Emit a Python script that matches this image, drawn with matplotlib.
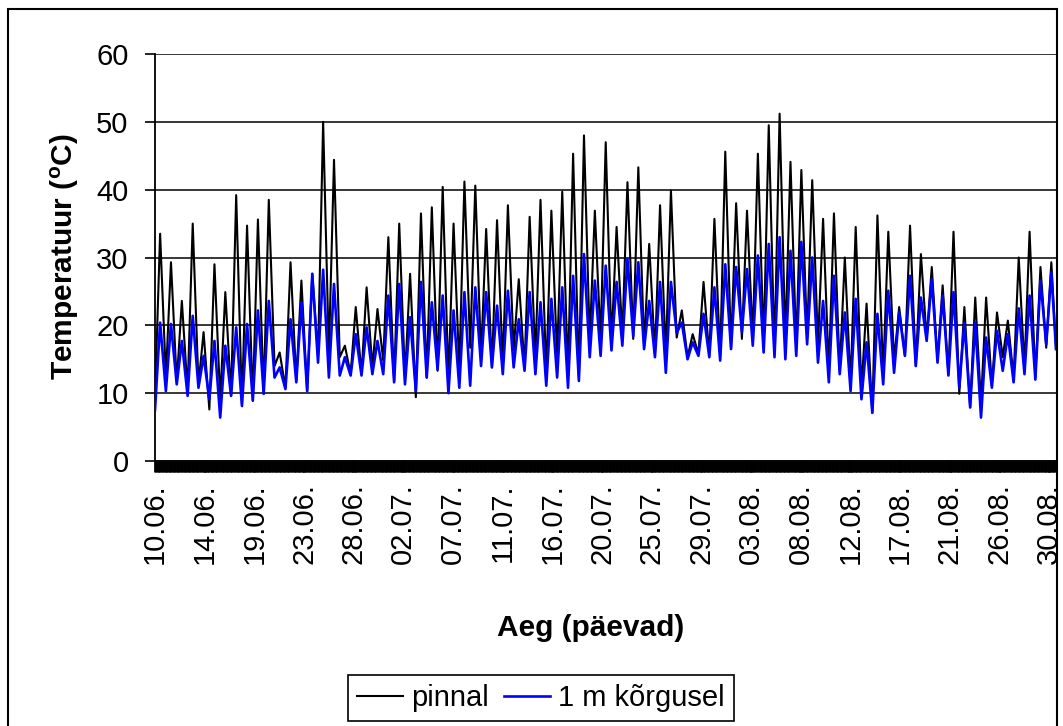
import matplotlib
matplotlib.use('Agg')
import matplotlib.pyplot as plt
from matplotlib.patches import Rectangle
from matplotlib.ticker import MultipleLocator, FixedLocator

plt.rcParams['font.family'] = ['Liberation Sans', 'DejaVu Sans']
plt.rcParams['mathtext.fontset'] = 'custom'
plt.rcParams['mathtext.rm'] = 'Liberation Sans'
plt.rcParams['mathtext.bf'] = 'Liberation Sans:bold'

#%% andmed: ööpäeva miinimum ja maksimum (°C), loetud graafikult

pinnal_min = [
    9.4, 12.3, 11.6, 10.3, 11.3, 7.6, 9.0, 9.6, 8.4, 8.9,
    9.9, 14.0, 10.8, 11.8, 10.3, 15.5, 15.8, 15.3, 12.8, 12.8,
    13.8, 14.8, 11.8, 12.3, 9.4, 12.3, 13.3, 12.0, 13.5, 16.7,
    15.3, 13.8, 14.3, 16.3, 13.8, 15.3, 12.8, 15.3, 12.8, 12.3,
    17.7, 17.7, 17.5, 18.5, 18.0, 17.0, 15.8, 15.5, 18.2, 15.3,
    15.8, 15.5, 15.3, 16.7, 18.0, 18.2, 17.2, 16.0, 17.7, 16.7,
    18.2, 17.2, 13.3, 13.3, 11.3, 10.6, 7.1, 12.8, 14.8, 15.5,
    14.0, 18.0, 14.8, 12.8, 9.9, 7.9, 8.5, 11.1, 15.3, 12.3,
    13.8, 12.3, 16.7,
]
pinnal_max = [
    33.5, 29.3, 23.6, 35.0, 19.0, 29.0, 24.9, 39.2, 34.7, 35.6,
    38.5, 16.0, 29.3, 26.6, 27.6, 50.0, 44.4, 17.0, 22.7, 25.6,
    22.4, 33.0, 35.0, 27.6, 36.5, 37.4, 40.4, 35.0, 41.2, 40.6,
    34.2, 35.5, 37.7, 26.8, 36.0, 38.5, 36.9, 39.7, 45.3, 48.0,
    36.9, 47.0, 34.5, 41.1, 43.3, 32.0, 37.7, 39.9, 22.2, 18.7,
    26.4, 35.7, 45.6, 38.0, 36.9, 45.3, 49.5, 51.2, 44.1, 42.9,
    41.4, 35.7, 36.5, 30.0, 34.5, 23.2, 36.2, 33.8, 22.7, 34.7,
    30.5, 28.6, 25.9, 33.8, 22.7, 24.1, 24.1, 21.9, 20.7, 30.0,
    33.8, 28.6, 29.3,
]
korgusel_min = [
    7.5, 10.3, 11.3, 9.6, 10.8, 9.1, 6.4, 9.6, 8.1, 8.9,
    9.9, 12.3, 10.6, 11.6, 10.3, 14.5, 12.3, 12.6, 12.6, 12.6,
    12.8, 12.8, 11.6, 11.3, 10.3, 12.3, 13.5, 10.0, 10.8, 11.1,
    14.0, 13.8, 12.8, 13.8, 13.3, 12.8, 11.1, 12.3, 10.8, 11.8,
    15.3, 15.5, 16.3, 17.0, 18.4, 16.5, 15.3, 13.0, 18.9, 15.0,
    15.5, 15.3, 14.8, 16.5, 19.0, 17.0, 16.0, 15.3, 15.0, 15.5,
    17.2, 14.5, 11.6, 12.8, 10.3, 9.1, 7.1, 11.3, 13.0, 15.5,
    14.0, 17.7, 14.5, 12.6, 10.8, 7.9, 6.4, 10.8, 13.3, 11.6,
    12.8, 12.0, 17.2,
]
korgusel_max = [
    20.4, 20.2, 17.7, 21.4, 15.5, 17.7, 17.0, 19.7, 20.2, 22.2,
    23.6, 13.8, 20.9, 23.4, 27.6, 28.2, 26.1, 15.3, 18.7, 19.7,
    17.7, 24.4, 26.1, 21.2, 26.4, 23.4, 24.4, 22.2, 24.9, 25.6,
    24.9, 22.9, 25.1, 20.9, 24.9, 23.4, 23.9, 25.6, 27.3, 30.5,
    26.6, 28.8, 26.4, 29.8, 29.3, 23.6, 26.4, 26.4, 20.4, 17.5,
    21.7, 25.6, 29.0, 28.6, 28.3, 30.3, 32.0, 33.0, 31.0, 32.3,
    30.0, 23.6, 27.3, 21.9, 23.9, 17.5, 21.7, 25.1, 21.9, 27.3,
    24.1, 26.8, 24.4, 24.9, 20.4, 20.4, 18.2, 19.2, 18.7, 22.5,
    24.4, 26.6, 27.8,
]
# viimane mõõtmine
pinnal_lopp = 16.5
korgusel_lopp = 16.5

kuupaevad = [
    '10.06.', '14.06.', '19.06.', '23.06.', '28.06.', '02.07.', '07.07.',
    '11.07.', '16.07.', '20.07.', '25.07.', '29.07.', '03.08.', '08.08.',
    '12.08.', '17.08.', '21.08.', '26.08.', '30.08.',
]

# aeg päevades mõõtmise algusest
MIN_AEG = 0.0       # miinimumi aeg ööpäevas
MAX_AEG = 0.47      # maksimumi aeg ööpäevas
LOPP_AEG = 82.9     # mõõtmise lõpp
SILDI_SAMM = 4.57   # päeva siltide vahel


#%%

def aegrida(miinimumid, maksimumid, lopp):
    """Paneb ööpäeva miinimumid ja maksimumid üheks jadaks."""
    x, y = [], []
    for paev, (mn, mx) in enumerate(zip(miinimumid, maksimumid)):
        x += [paev + MIN_AEG, paev + MAX_AEG]
        y += [mn, mx]
    x.append(LOPP_AEG)
    y.append(lopp)
    return x, y


def grafik():
    fig = plt.figure(figsize=(10.63, 7.26), dpi=100)
    ax = fig.add_axes([155 / 1063, 1 - 461 / 726, 901 / 1063, 407 / 726])

    x1, y1 = aegrida(pinnal_min, pinnal_max, pinnal_lopp)
    x2, y2 = aegrida(korgusel_min, korgusel_max, korgusel_lopp)
    ax.plot(x1, y1, color='black', linewidth=1.5, label='pinnal', zorder=3)
    ax.plot(x2, y2, color='#0000ff', linewidth=1.9, label='1 m kõrgusel', zorder=4)

    ax.set_xlim(0, LOPP_AEG)
    ax.set_ylim(0, 60)

    # y-telg
    ax.yaxis.set_major_locator(MultipleLocator(10))
    ax.tick_params(axis='y', direction='out', length=7, width=1.2,
                   pad=12, labelsize=21)
    ax.grid(axis='y', color='black', linewidth=1.1)
    ax.set_axisbelow(True)

    # x-telg: tihedad kategooriate kriipsud
    ax.xaxis.set_major_locator(FixedLocator(
        [i * SILDI_SAMM for i in range(len(kuupaevad))]))
    ax.set_xticklabels(kuupaevad, rotation=90, va='top', ha='center')
    ax.xaxis.set_minor_locator(MultipleLocator(0.125))
    ax.tick_params(axis='x', which='both', direction='out', length=8,
                   width=2.0, labelsize=21, pad=8)

    for side in ['top', 'right']:
        ax.spines[side].set_visible(False)
    ax.spines['left'].set_linewidth(1.3)
    ax.spines['bottom'].set_linewidth(1.3)

    fig.text(65 / 1063, 1 - 257 / 726, r'Temperatuur ($\mathbf{^o}$C)',
             rotation=90, ha='center', va='center', fontsize=21.5,
             fontweight='bold')
    fig.text(591 / 1063, 1 - 628 / 726, 'Aeg (päevad)', ha='center',
             va='center', fontsize=21.5, fontweight='bold')

    leg = fig.legend(loc='upper left', bbox_to_anchor=(348 / 1063, 1 - 675 / 726),
                     ncol=2, fontsize=21, frameon=True, fancybox=False,
                     edgecolor='black', framealpha=1, handlelength=1.6,
                     handletextpad=0.27, columnspacing=0.5, borderpad=0.3,
                     borderaxespad=0)
    leg.get_frame().set_linewidth(1.2)

    # diagrammi raam
    fig.patches.append(Rectangle((8 / 1063, -0.1), (1057 - 8) / 1063,
                                 1.1 - 9 / 726, transform=fig.transFigure,
                                 fill=False, edgecolor='black', linewidth=1.5))

    fig.savefig('out.png', dpi=100)
    plt.close(fig)


if __name__ == '__main__':
    grafik()
